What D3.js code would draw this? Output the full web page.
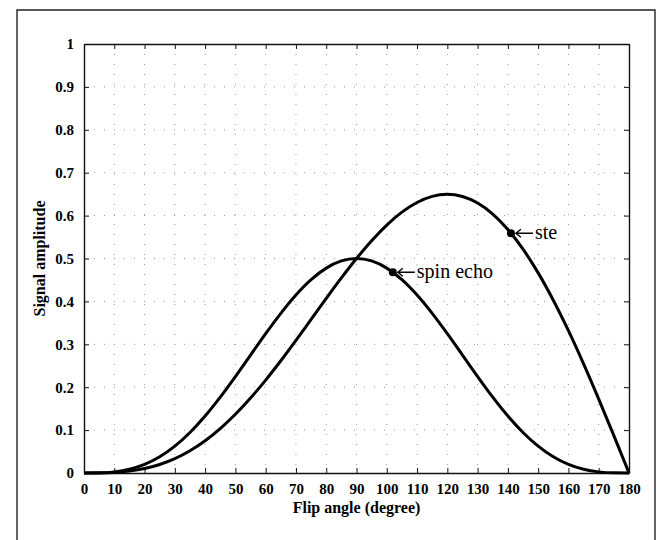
<!DOCTYPE html>
<html>
<head>
<meta charset="utf-8">
<script src="https://cdn.jsdelivr.net/npm/d3@7"></script>
<style>
  html, body { margin: 0; padding: 0; background: #fff; }
  svg { display: block; }
  svg text { font-family: "Liberation Serif", "DejaVu Serif", serif; }
</style>
</head>
<body>
<svg id="chart" width="668" height="540"></svg>
<script>
// ---- data ----
const flipAngles = [0,5,10,15,20,25,30,35,40,45,50,55,60,65,70,75,80,85,90,95,100,105,110,115,120,125,130,135,140,145,150,155,160,165,170,175,180];
const spinEcho = [0,0.0003,0.0026,0.0087,0.020,0.0377,0.0625,0.0944,0.1328,0.1768,0.2248,0.2748,0.3248,0.3722,0.4149,0.4506,0.4776,0.4943,0.5,0.4943,0.4776,0.4506,0.4149,0.3722,0.3248,0.2748,0.2248,0.1768,0.1328,0.0944,0.0625,0.0377,0.020,0.0087,0.0026,0.0003,0];
const ste = [0,0.0002,0.0013,0.0044,0.0103,0.0198,0.0335,0.0519,0.0752,0.1036,0.1368,0.1747,0.2165,0.2616,0.3092,0.3580,0.4069,0.4547,0.5,0.5415,0.5779,0.6080,0.6305,0.6447,0.6495,0.6445,0.6292,0.6036,0.5676,0.5217,0.4665,0.4028,0.3317,0.2544,0.1723,0.0870,0];
const xTicks = [0,10,20,30,40,50,60,70,80,90,100,110,120,130,140,150,160,170,180];
const yTicks = [0,0.1,0.2,0.3,0.4,0.5,0.6,0.7,0.8,0.9,1];
const yTickLabels = ["0","0.1","0.2","0.3","0.4","0.5","0.6","0.7","0.8","0.9","1"];
const markerLabels = ["spin echo", "ste"];
const markerX = [102, 141];
const markerY = [0.468, 0.559];
const xTitle = "Flip angle (degree)";
const yTitle = "Signal amplitude";

(function () {
// ---- layout ----
const svg = d3.select("#chart");
const pLeft = 84, pRight = 629, pTop = 44, pBottom = 473;
const font = "Liberation Serif, DejaVu Serif, serif";

const x = d3.scaleLinear().domain([0, 180]).range([pLeft, pRight]);
const y = d3.scaleLinear().domain([0, 1]).range([pBottom, pTop]);

// outer frame
svg.append("path").attr("d", "M17,540 L17,10 L655,10 L655,540")
  .attr("stroke", "#222").attr("stroke-width", 1.4).attr("fill", "none");

// grid
const grid = svg.append("g").attr("stroke", "#999").attr("stroke-width", 1).attr("stroke-dasharray", "1,9");
grid.selectAll("line.v").data(xTicks.slice(1, -1)).join("line").attr("class", "v")
  .attr("x1", d => x(d)).attr("x2", d => x(d)).attr("y1", pTop).attr("y2", pBottom);
grid.selectAll("line.h").data(yTicks.slice(1, -1)).join("line").attr("class", "h")
  .attr("x1", pLeft).attr("x2", pRight).attr("y1", d => y(d)).attr("y2", d => y(d));

// axes
const tickLen = 5;
const xAxisB = d3.axisBottom(x).tickValues(xTicks).tickSizeInner(-tickLen).tickSizeOuter(0).tickPadding(10).tickFormat(d3.format("d"));
const xAxisT = d3.axisTop(x).tickValues(xTicks).tickSizeInner(-tickLen).tickSizeOuter(0).tickFormat("");
const yAxisL = d3.axisLeft(y).tickValues(yTicks).tickSizeInner(-tickLen).tickSizeOuter(0).tickPadding(10).tickFormat((d, i) => yTickLabels[i]);
const yAxisR = d3.axisRight(y).tickValues(yTicks).tickSizeInner(-tickLen).tickSizeOuter(0).tickFormat("");

function styleAxis(g) {
  g.attr("font-family", font);
  g.selectAll("path").attr("stroke", "#111").attr("stroke-width", 1.4);
  g.selectAll("line").attr("stroke", "#111").attr("stroke-width", 1);
  g.selectAll("text").attr("fill", "#000").style("font-size", "15px").style("font-weight", "bold");
}
svg.append("g").attr("transform", `translate(0,${pBottom})`).call(xAxisB).call(styleAxis);
svg.append("g").attr("transform", `translate(0,${pTop})`).call(xAxisT).call(styleAxis);
svg.append("g").attr("transform", `translate(${pLeft},0)`).call(yAxisL).call(styleAxis);
svg.append("g").attr("transform", `translate(${pRight},0)`).call(yAxisR).call(styleAxis);

// curves
const line = d3.line().x(d => x(d[0])).y(d => y(d[1])).curve(d3.curveMonotoneX);
[spinEcho, ste].forEach(s => {
  svg.append("path")
    .datum(flipAngles.map((a, i) => [a, s[i]]))
    .attr("d", line)
    .attr("fill", "none").attr("stroke", "#000").attr("stroke-width", 3).attr("stroke-linejoin", "round");
});

// markers + arrows + labels
markerLabels.forEach((lab, i) => {
  const cx = x(markerX[i]), cy = y(markerY[i]);
  svg.append("circle").attr("cx", cx).attr("cy", cy).attr("r", 4).attr("fill", "#000");
  svg.append("path")
    .attr("d", `M${cx + 5},${cy} L${cx + 22},${cy} M${cx + 10},${cy - 4} L${cx + 5},${cy} L${cx + 10},${cy + 4}`)
    .attr("stroke", "#000").attr("stroke-width", 1.4).attr("fill", "none");
  svg.append("text").attr("x", cx + 24).attr("y", cy + 6)
    .style("font-size", "20px").attr("fill", "#000")
    .text(lab);
});

// axis titles
svg.append("text").attr("x", (pLeft + pRight) / 2).attr("y", 513).attr("text-anchor", "middle")
  .style("font-size", "16px").style("font-weight", "bold").text(xTitle);
svg.append("text").attr("transform", `translate(45,${(pTop + pBottom) / 2}) rotate(-90)`).attr("text-anchor", "middle")
  .style("font-size", "16px").style("font-weight", "bold").text(yTitle);
})();
</script>
</body>
</html>
